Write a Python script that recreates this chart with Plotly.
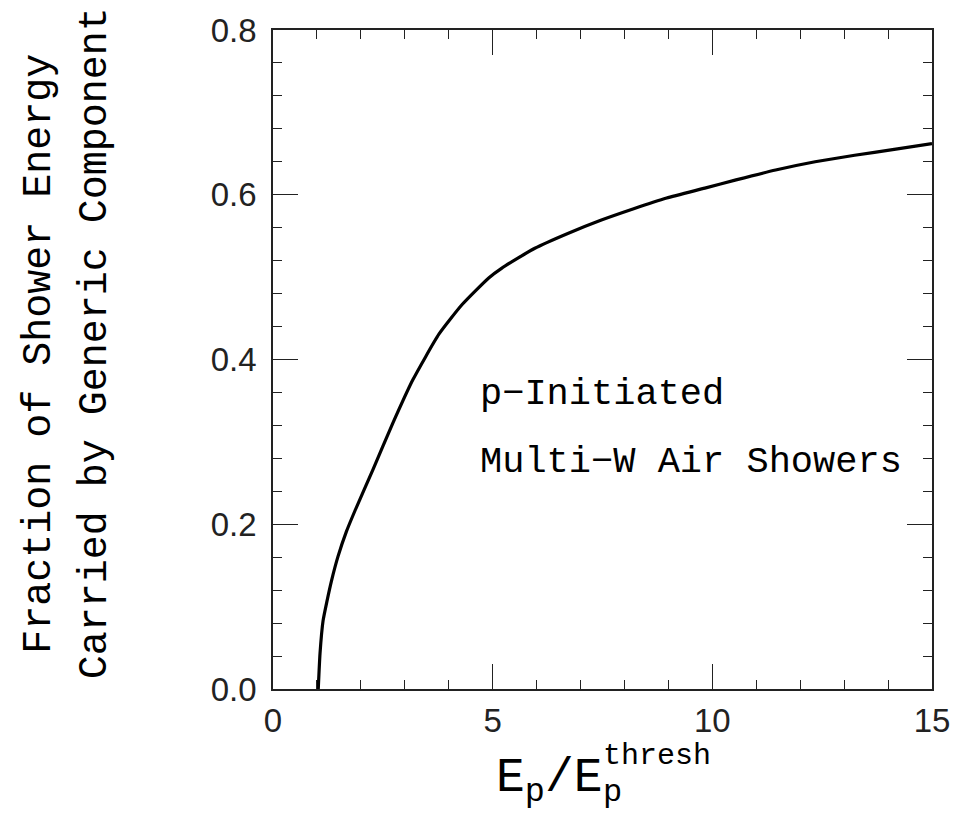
import plotly.graph_objects as go

# Data
energy_ratio = [1.03, 1.07, 1.14, 1.23, 1.33, 1.48, 1.67, 1.87, 2.28, 2.73, 3.18,
                3.78, 4.31, 4.91, 5.21, 5.96, 6.71, 7.46, 8.21, 8.96, 9.83,
                10.54, 11.44, 12.34, 13.24, 14.14, 15.0]
generic_fraction = [0.0, 0.043, 0.083, 0.107, 0.131, 0.161, 0.191, 0.217, 0.267,
                    0.323, 0.375, 0.431, 0.467, 0.499, 0.511, 0.535, 0.553, 0.569,
                    0.583, 0.596, 0.608, 0.618, 0.630, 0.640, 0.648, 0.655, 0.662]

x_tickvals = [0, 5, 10, 15]
x_ticktext = ["0", "5", "10", "15"]
y_tickvals = [0.0, 0.2, 0.4, 0.6, 0.8]
y_ticktext = ["0.0", "0.2", "0.4", "0.6", "0.8"]

W, H = 962, 813
L, R, T, B = 272.5, 939, 22.7, 689


def px_to_paper(px, py):
    return (px - L) / (R - L), (B - py) / (B - T)


MONO = "Liberation Mono"
SANS = "Liberation Sans"

fig = go.Figure()
fig.add_trace(go.Scatter(x=energy_ratio, y=generic_fraction, mode="lines",
                         line=dict(color="black", width=3.2, shape="spline",
                                   smoothing=0.5),
                         hoverinfo="skip", showlegend=False))

axis_common = dict(
    showgrid=False, zeroline=False, showline=True, linecolor="#222", linewidth=1.5,
    mirror="allticks", ticks="inside", ticklen=25, tickwidth=1.2, tickcolor="#222",
    tickfont=dict(family=SANS, size=33, color="#222"),
)

fig.update_xaxes(range=[0, 15], tickvals=x_tickvals, ticktext=x_ticktext,
                 ticklabelstandoff=2,
                 minor=dict(dtick=1, tick0=0, ticks="inside", ticklen=9,
                            tickwidth=1.2, tickcolor="#222"),
                 **axis_common)
fig.update_yaxes(range=[0, 0.8], tickvals=y_tickvals, ticktext=y_ticktext,
                 ticklabelstandoff=8,
                 minor=dict(dtick=0.04, tick0=0, ticks="inside", ticklen=9,
                            tickwidth=1.2, tickcolor="#222"),
                 **axis_common)

annotations = []


def add_text(text, px, py, size, xanchor="center", yanchor="middle", angle=0):
    ax, ay = px_to_paper(px, py)
    annotations.append(dict(text=text, x=ax, y=ay, xref="paper", yref="paper",
                            xanchor=xanchor, yanchor=yanchor, showarrow=False,
                            textangle=angle,
                            font=dict(family=MONO, size=size, color="black")))


# y-axis title (two lines)
add_text("Fraction of Shower Energy", 37, 350, 40, angle=-90)
add_text("Carried by Generic Component", 93, 340, 40, angle=-90)

# x-axis title: E_p / E_p^thresh (sub- and superscript stacked)
add_text("E<sub>p</sub>/E", 496, 782, 48, xanchor="left")
add_text("p", 604, 794, 32, xanchor="left")
add_text("thresh", 604, 757, 30, xanchor="left")

# in-plot labels
add_text("p\u2212Initiated", 480, 391, 37, xanchor="left")
add_text("Multi\u2212W Air Showers", 480, 459, 37, xanchor="left")

fig.update_layout(
    width=W, height=H,
    margin=dict(l=L, r=W - R, t=T, b=H - B),
    paper_bgcolor="white", plot_bgcolor="white",
    annotations=annotations,
)

fig.write_html("out.html")
